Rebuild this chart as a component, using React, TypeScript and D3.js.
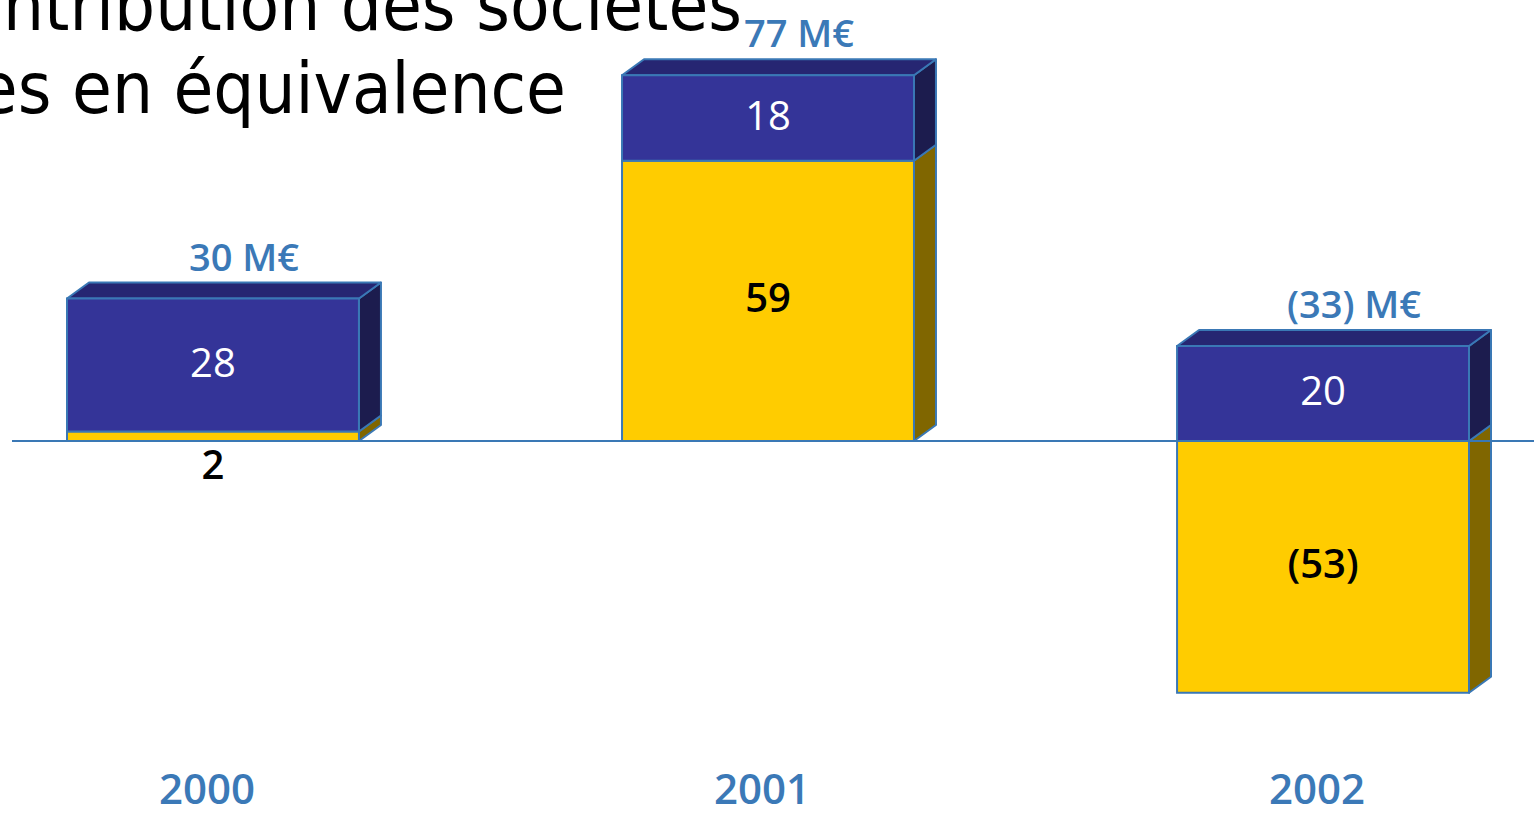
import React from "react";
import * as d3 from "d3";

// values (M€)
const categories = ["2000", "2001", "2002"];
const seriesKeys = ["mee", "autres"];
const meeValues = [2, 59, -53]; // yellow part
const autresValues = [28, 18, 20]; // blue part
const titleLines = ["Contribution des sociétés", "mises en équivalence"];

const W = 1534;
const H = 817;
const depthX = 22;
const depthY = -16;

const colors: Record<string, { front: string; top: string; side: string; text: string }> = {
  mee: { front: "#ffcc00", top: "#cca300", side: "#806600", text: "#000000" },
  autres: { front: "#343498", top: "#262672", side: "#1c1c4e", text: "#ffffff" },
};
const edge = "#3a78b5";
const labelBlue = "#3b79b7";

const fmt = (v: number) => (v < 0 ? `(${Math.abs(v)})` : `${v}`);

const App = () => {
  const rows = categories.map((c, i) => ({
    cat: c,
    mee: meeValues[i],
    autres: autresValues[i],
  }));

  const stacked = d3
    .stack<any>()
    .keys(seriesKeys)
    .offset(d3.stackOffsetDiverging)(rows);

  const x = d3
    .scaleBand()
    .domain(categories)
    .range([67, 1469])
    .paddingInner(0.474)
    .paddingOuter(0);

  const y = d3.scaleLinear().domain([-60, 80]).range([726, 61]);

  const bw = x.bandwidth();

  return (
    <svg
      width={W}
      height={H}
      style={{ position: "absolute", left: 0, top: 0, background: "#fff" }}
      fontFamily="'Open Sans', 'Noto Sans', sans-serif"
    >
      {/* title, cut by the page edge like in the slide */}
      <g fontFamily="'Liberation Sans Narrow', 'DejaVu Sans Condensed', sans-serif" fontSize={72} fill="#000">
        <text x={742} y={30} textAnchor="end">{titleLines[0]}</text>
        <text x={566} y={113} textAnchor="end">{titleLines[1]}</text>
      </g>

      {categories.map((cat, i) => {
        const x0 = x(cat)!;
        const x1 = x0 + bw;
        const segs = stacked.map((s) => ({ key: s.key, y0: s[i][0], y1: s[i][1], v: (rows[i] as any)[s.key] }));
        const topVal = d3.max(segs, (s) => Math.max(s.y0, s.y1))!;
        const total = d3.sum(segs, (s) => s.v);
        const yTop = y(topVal);
        return (
          <g key={cat}>
            {segs.map((s) => {
              const ya = y(Math.max(s.y0, s.y1));
              const yb = y(Math.min(s.y0, s.y1));
              const c = colors[s.key];
              const side = `M${x1},${ya} L${x1 + depthX},${ya + depthY} L${x1 + depthX},${yb + depthY} L${x1},${yb} Z`;
              const isTop = Math.max(s.y0, s.y1) === topVal;
              const top = `M${x0},${ya} L${x0 + depthX},${ya + depthY} L${x1 + depthX},${ya + depthY} L${x1},${ya} Z`;
              const h = yb - ya;
              const small = h < 30;
              return (
                <g key={s.key}>
                  <path d={side} fill={c.side} stroke={edge} strokeWidth={2} strokeLinejoin="round" />
                  {isTop && <path d={top} fill={c.top} stroke={edge} strokeWidth={2} strokeLinejoin="round" />}
                  <rect x={x0} y={ya} width={bw} height={h} fill={c.front} stroke={edge} strokeWidth={2} />
                  <text
                    x={x0 + bw / 2}
                    y={small ? y(0) + 22 : (ya + yb) / 2 - 4}
                    textAnchor="middle"
                    dominantBaseline="central"
                    fontSize={40}
                    fontWeight={small || s.key === "mee" ? 600 : 400}
                    fill={small ? "#000" : c.text}
                  >
                    {fmt(s.v)}
                  </text>
                </g>
              );
            })}
            <text
              x={x0 + bw / 2 + 31}
              y={yTop + depthY - 12}
              textAnchor="middle"
              fontSize={38}
              fontWeight={600}
              fill={labelBlue}
            >
              {`${fmt(total)} M€`}
            </text>
            <text
              x={x0 + bw / 2 - 6}
              y={804}
              textAnchor="middle"
              fontSize={42}
              fontWeight={600}
              fill={labelBlue}
            >
              {cat}
            </text>
          </g>
        );
      })}

      <line x1={12} x2={W} y1={y(0)} y2={y(0)} stroke={edge} strokeWidth={2} />
    </svg>
  );
};

export default App;
